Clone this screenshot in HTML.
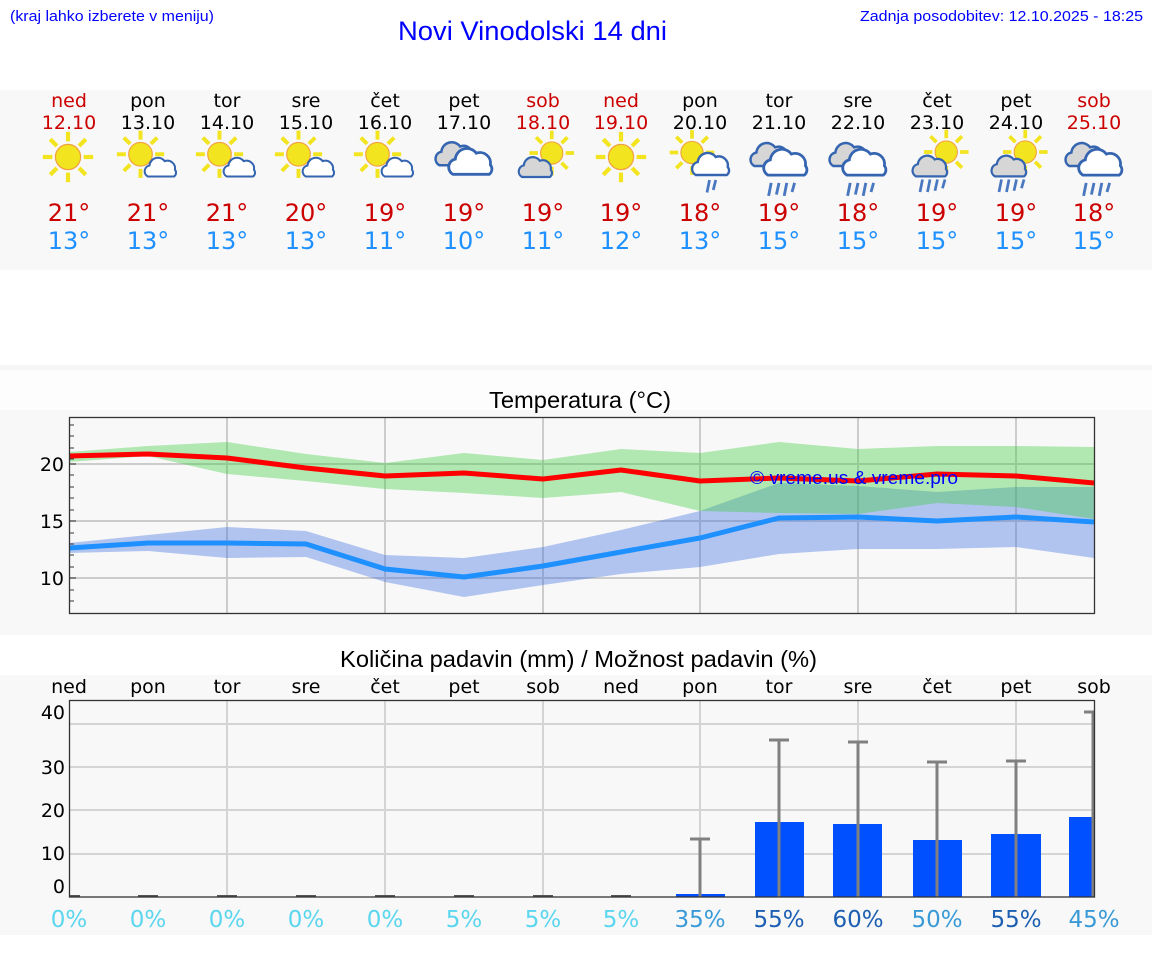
<!DOCTYPE html>
<html><head><meta charset="utf-8"><style>
html,body{margin:0;padding:0;background:#fff;}
svg{display:block;}
.d{font-family:"DejaVu Sans","Liberation Sans",sans-serif;}
.l{font-family:"Liberation Sans",sans-serif;}
</style></head><body>
<svg width="1152" height="975" viewBox="0 0 1152 975" xmlns="http://www.w3.org/2000/svg">
<defs>
<path id="cl" d="M-15,10 A7,7 0 0 1 -13,-3 A10,10 0 0 1 5,-8 A9,9 0 0 1 17,2 A5.5,5.5 0 0 1 16,10 Z"/>
<g id="sunR">
 <g stroke="#f2e41e" stroke-width="3.5">
  <line x1="13" y1="0" x2="21" y2="0"/><line x1="-13" y1="0" x2="-21" y2="0"/>
  <line x1="0" y1="13" x2="0" y2="21"/><line x1="0" y1="-13" x2="0" y2="-21"/>
  <line x1="9.2" y1="9.2" x2="14.8" y2="14.8"/><line x1="-9.2" y1="-9.2" x2="-14.8" y2="-14.8"/>
  <line x1="9.2" y1="-9.2" x2="14.8" y2="-14.8"/><line x1="-9.2" y1="9.2" x2="-14.8" y2="14.8"/>
 </g>
 <circle r="10.5" fill="#f2e41e" stroke="#f0a040" stroke-width="1"/>
</g>
<g id="wc"><use href="#cl" fill="#fff" stroke="#3565b0" stroke-width="2.4"/></g>
<g id="gc"><use href="#cl" fill="#d6d6d6" stroke="#3565b0" stroke-width="2.4"/></g>
<g id="i_sun"><use href="#sunR"/></g>
<g id="i_sunsc"><use href="#sunR" transform="translate(-6,-3) scale(0.9)"/><use href="#wc" transform="translate(10,8) scale(0.68)"/></g>
<g id="i_cloud"><use href="#gc" transform="translate(-7,-4) scale(0.8)"/><use href="#wc" transform="translate(5,2) scale(0.9)"/></g>
<g id="i_sunc2"><use href="#sunR" transform="translate(7,-4) scale(0.85)"/><use href="#gc" transform="translate(-6,8) scale(0.72)"/></g>
<g id="i_sunrain"><use href="#sunR" transform="translate(-8,-6) scale(0.85)"/><use href="#wc" transform="translate(7,4) scale(0.8)"/>
 <g stroke="#4a78c0" stroke-width="2.2"><line x1="6" y1="16" x2="4" y2="26"/><line x1="11" y1="16" x2="9" y2="24"/></g></g>
<g id="i_cloudrain"><use href="#gc" transform="translate(-7,-8) scale(0.8)"/><use href="#wc" transform="translate(5,-2) scale(0.9)"/>
 <g stroke="#4a78c0" stroke-width="2.2"><line x1="-6" y1="13" x2="-8" y2="23"/><line x1="0" y1="13" x2="-2" y2="22"/><line x1="6" y1="13" x2="4" y2="23"/><line x1="12" y1="13" x2="10" y2="20"/></g></g>
<g id="i_suncr"><use href="#sunR" transform="translate(9,-8) scale(0.85)"/><use href="#gc" transform="translate(-4,4) scale(0.75)"/>
 <g stroke="#4a78c0" stroke-width="2.2"><line x1="-10" y1="14" x2="-12" y2="24"/><line x1="-4" y1="14" x2="-6" y2="24"/><line x1="2" y1="14" x2="0" y2="23"/><line x1="8" y1="14" x2="6" y2="21"/></g></g>
</defs>

<!-- header -->
<text class="l" x="10" y="21" font-size="15" fill="#0000ff" textLength="204" lengthAdjust="spacingAndGlyphs">(kraj lahko izberete v meniju)</text>
<text class="l" x="398" y="40" font-size="27" fill="#0000ff" textLength="269" lengthAdjust="spacingAndGlyphs">Novi Vinodolski 14 dni</text>
<text class="l" x="860" y="21" font-size="15" fill="#0000ff" textLength="283" lengthAdjust="spacingAndGlyphs">Zadnja posodobitev: 12.10.2025 - 18:25</text>

<!-- panel 1 -->
<rect x="0" y="90" width="1152" height="180" fill="#f8f8f8"/>
<rect x="0" y="365" width="1152" height="5" fill="#f6f6f6"/>
<rect x="0" y="370" width="1152" height="40" fill="#fdfdfd"/>
<g class="d" font-size="19" text-anchor="middle">
<text x="69" y="107" fill="#cc0000">ned</text><text x="69" y="129" fill="#cc0000">12.10</text>
<text x="148" y="107">pon</text><text x="148" y="129">13.10</text>
<text x="227" y="107">tor</text><text x="227" y="129">14.10</text>
<text x="306" y="107">sre</text><text x="306" y="129">15.10</text>
<text x="385" y="107">čet</text><text x="385" y="129">16.10</text>
<text x="464" y="107">pet</text><text x="464" y="129">17.10</text>
<text x="543" y="107" fill="#cc0000">sob</text><text x="543" y="129" fill="#cc0000">18.10</text>
<text x="621" y="107" fill="#cc0000">ned</text><text x="621" y="129" fill="#cc0000">19.10</text>
<text x="700" y="107">pon</text><text x="700" y="129">20.10</text>
<text x="779" y="107">tor</text><text x="779" y="129">21.10</text>
<text x="858" y="107">sre</text><text x="858" y="129">22.10</text>
<text x="937" y="107">čet</text><text x="937" y="129">23.10</text>
<text x="1016" y="107">pet</text><text x="1016" y="129">24.10</text>
<text x="1094" y="107" fill="#cc0000">sob</text><text x="1094" y="129" fill="#cc0000">25.10</text>
</g>
<use href="#i_sun" transform="translate(68,157) scale(1.2)"/>
<use href="#i_sunsc" transform="translate(148,158) scale(1.25)"/>
<use href="#i_sunsc" transform="translate(227,158) scale(1.25)"/>
<use href="#i_sunsc" transform="translate(306,158) scale(1.25)"/>
<use href="#i_sunsc" transform="translate(385,158) scale(1.25)"/>
<use href="#i_cloud" transform="translate(464,160) scale(1.3)"/>
<use href="#i_sunc2" transform="translate(543,158) scale(1.25)"/>
<use href="#i_sun" transform="translate(621,157) scale(1.2)"/>
<use href="#i_sunrain" transform="translate(702,160) scale(1.25)"/>
<use href="#i_cloudrain" transform="translate(779,166) scale(1.3)"/>
<use href="#i_cloudrain" transform="translate(858,166) scale(1.3)"/>
<use href="#i_suncr" transform="translate(935,162) scale(1.25)"/>
<use href="#i_suncr" transform="translate(1014,162) scale(1.25)"/>
<use href="#i_cloudrain" transform="translate(1094,166) scale(1.3)"/>
<g class="d" font-size="24" text-anchor="middle" fill="#cc0000">
<text x="69" y="221">21°</text><text x="148" y="221">21°</text><text x="227" y="221">21°</text><text x="306" y="221">20°</text><text x="385" y="221">19°</text><text x="464" y="221">19°</text><text x="543" y="221">19°</text><text x="621" y="221">19°</text><text x="700" y="221">18°</text><text x="779" y="221">19°</text><text x="858" y="221">18°</text><text x="937" y="221">19°</text><text x="1016" y="221">19°</text><text x="1094" y="221">18°</text>
</g>
<g class="d" font-size="24" text-anchor="middle" fill="#1e90ff">
<text x="69" y="249">13°</text><text x="148" y="249">13°</text><text x="227" y="249">13°</text><text x="306" y="249">13°</text><text x="385" y="249">11°</text><text x="464" y="249">10°</text><text x="543" y="249">11°</text><text x="621" y="249">12°</text><text x="700" y="249">13°</text><text x="779" y="249">15°</text><text x="858" y="249">15°</text><text x="937" y="249">15°</text><text x="1016" y="249">15°</text><text x="1094" y="249">15°</text>
</g>

<!-- temperature -->
<rect x="0" y="410" width="1152" height="225" fill="#f8f8f8"/>
<text class="l" x="489" y="408" font-size="23" textLength="182" lengthAdjust="spacingAndGlyphs">Temperatura (°C)</text>
<g stroke="#cccccc" stroke-width="2">
<line x1="69" y1="464" x2="1094" y2="464"/><line x1="69" y1="521" x2="1094" y2="521"/><line x1="69" y1="578" x2="1094" y2="578"/>
<line x1="227" y1="417" x2="227" y2="613"/><line x1="385" y1="417" x2="385" y2="613"/><line x1="543" y1="417" x2="543" y2="613"/><line x1="700" y1="417" x2="700" y2="613"/><line x1="858" y1="417" x2="858" y2="613"/><line x1="1016" y1="417" x2="1016" y2="613"/>
</g>
<polygon fill="rgb(60,110,225)" fill-opacity="0.38" points="69,543 148,535 227,527 306,531 385,555 464,558 543,547 621,530 700,511 779,483 858,486 937,492 1016,487 1094,487 1094,558 1016,547 937,549 858,549 779,554 700,567 621,574 543,585 464,597 385,582 306,557 227,558 148,551 69,553"/>
<polygon fill="rgb(60,205,60)" fill-opacity="0.38" points="69,452 148,446 227,442 306,454 385,463 464,453 543,460 621,449 700,453 779,442 858,449 937,446 1016,446 1094,447 1094,519 1016,507 937,503 858,514 779,513 700,511 621,492 543,498 464,493 385,489 306,481 227,474 148,456 69,462"/>
<polyline fill="none" stroke="#1e90ff" stroke-width="5" stroke-linejoin="round" points="69,548 148,543 227,543 306,544 385,569 464,577 543,566 621,552 700,538 779,518 858,517 937,521 1016,517 1094,522"/>
<polyline fill="none" stroke="#ff0000" stroke-width="5" stroke-linejoin="round" points="69,456 148,454 227,458 306,468 385,476 464,473 543,479 621,470 700,481 779,478 858,481 937,474 1016,476 1094,483"/>
<text class="l" x="750" y="484" font-size="18" fill="#0000ff" textLength="208" lengthAdjust="spacingAndGlyphs">© vreme.us &amp; vreme.pro</text>
<rect x="69.5" y="417.5" width="1025" height="196" fill="none" stroke="#333" stroke-width="1.3"/>
<g stroke="#333" stroke-width="1">
<line x1="69" y1="425" x2="74" y2="425"/><line x1="69" y1="436" x2="74" y2="436"/><line x1="69" y1="448" x2="74" y2="448"/><line x1="69" y1="459" x2="74" y2="459"/><line x1="69" y1="464" x2="76" y2="464"/><line x1="69" y1="475" x2="74" y2="475"/><line x1="69" y1="487" x2="74" y2="487"/><line x1="69" y1="498" x2="74" y2="498"/><line x1="69" y1="510" x2="74" y2="510"/><line x1="69" y1="521" x2="76" y2="521"/><line x1="69" y1="533" x2="74" y2="533"/><line x1="69" y1="544" x2="74" y2="544"/><line x1="69" y1="555" x2="74" y2="555"/><line x1="69" y1="567" x2="74" y2="567"/><line x1="69" y1="578" x2="76" y2="578"/><line x1="69" y1="590" x2="74" y2="590"/><line x1="69" y1="601" x2="74" y2="601"/>
</g>
<g class="d" font-size="19" text-anchor="end">
<text x="64" y="471">20</text><text x="64" y="528">15</text><text x="64" y="585">10</text>
</g>

<!-- precipitation -->
<rect x="0" y="675" width="1152" height="260" fill="#f8f8f8"/>
<text class="l" x="340" y="667" font-size="23" textLength="477" lengthAdjust="spacingAndGlyphs">Količina padavin (mm) / Možnost padavin (%)</text>
<g class="d" font-size="19" text-anchor="middle">
<text x="69" y="693">ned</text><text x="148" y="693">pon</text><text x="227" y="693">tor</text><text x="306" y="693">sre</text><text x="385" y="693">čet</text><text x="464" y="693">pet</text><text x="543" y="693">sob</text><text x="621" y="693">ned</text><text x="700" y="693">pon</text><text x="779" y="693">tor</text><text x="858" y="693">sre</text><text x="937" y="693">čet</text><text x="1016" y="693">pet</text><text x="1094" y="693">sob</text>
</g>
<g stroke="#d4d4d4" stroke-width="2">
<line x1="69" y1="724" x2="1094" y2="724"/><line x1="69" y1="767" x2="1094" y2="767"/><line x1="69" y1="810" x2="1094" y2="810"/><line x1="69" y1="854" x2="1094" y2="854"/>
<line x1="227" y1="700" x2="227" y2="897"/><line x1="385" y1="700" x2="385" y2="897"/><line x1="543" y1="700" x2="543" y2="897"/><line x1="700" y1="700" x2="700" y2="897"/><line x1="858" y1="700" x2="858" y2="897"/><line x1="1016" y1="700" x2="1016" y2="897"/>
</g>
<g fill="#0050ff">
<rect x="676" y="894" width="49" height="3"/>
<rect x="755" y="822" width="49" height="75"/>
<rect x="833" y="824" width="49" height="73"/>
<rect x="913" y="840" width="49" height="57"/>
<rect x="991" y="834" width="50" height="63"/>
<rect x="1069" y="817" width="25" height="80"/>
</g>
<g stroke="#808080" stroke-width="3">
<line x1="700" y1="839" x2="700" y2="897"/><line x1="690" y1="839" x2="710" y2="839"/>
<line x1="779" y1="740" x2="779" y2="897"/><line x1="769" y1="740" x2="789" y2="740"/>
<line x1="858" y1="742" x2="858" y2="897"/><line x1="848" y1="742" x2="868" y2="742"/>
<line x1="937" y1="762" x2="937" y2="897"/><line x1="927" y1="762" x2="947" y2="762"/>
<line x1="1016" y1="761" x2="1016" y2="897"/><line x1="1006" y1="761" x2="1026" y2="761"/>
<line x1="1093" y1="712" x2="1093" y2="897"/><line x1="1084" y1="712" x2="1094" y2="712"/>
</g>
<g stroke="#555" stroke-width="2">
<line x1="70" y1="896" x2="80" y2="896"/><line x1="138" y1="896" x2="158" y2="896"/><line x1="217" y1="896" x2="237" y2="896"/><line x1="296" y1="896" x2="316" y2="896"/><line x1="375" y1="896" x2="395" y2="896"/><line x1="454" y1="896" x2="474" y2="896"/><line x1="533" y1="896" x2="553" y2="896"/><line x1="611" y1="896" x2="631" y2="896"/>
</g>
<rect x="69.5" y="700.5" width="1025" height="196.5" fill="none" stroke="#333" stroke-width="1.3"/>
<g class="d" font-size="19" text-anchor="end">
<text x="65" y="719">40</text><text x="65" y="774">30</text><text x="65" y="817">20</text><text x="65" y="860">10</text><text x="65" y="893">0</text>
</g>
<g class="d" font-size="23" text-anchor="middle">
<text x="69" y="927" fill="#5ad6ee">0%</text><text x="148" y="927" fill="#5ad6ee">0%</text><text x="227" y="927" fill="#5ad6ee">0%</text><text x="306" y="927" fill="#5ad6ee">0%</text><text x="385" y="927" fill="#5ad6ee">0%</text><text x="464" y="927" fill="#5ad6ee">5%</text><text x="543" y="927" fill="#5ad6ee">5%</text><text x="621" y="927" fill="#5ad6ee">5%</text>
<text x="700" y="927" fill="#3a9ad8">35%</text><text x="779" y="927" fill="#1c5fb2">55%</text><text x="858" y="927" fill="#1c5fb2">60%</text><text x="937" y="927" fill="#3a9ad8">50%</text><text x="1016" y="927" fill="#1c5fb2">55%</text><text x="1094" y="927" fill="#3a9ad8">45%</text>
</g>
</svg>
</body></html>
